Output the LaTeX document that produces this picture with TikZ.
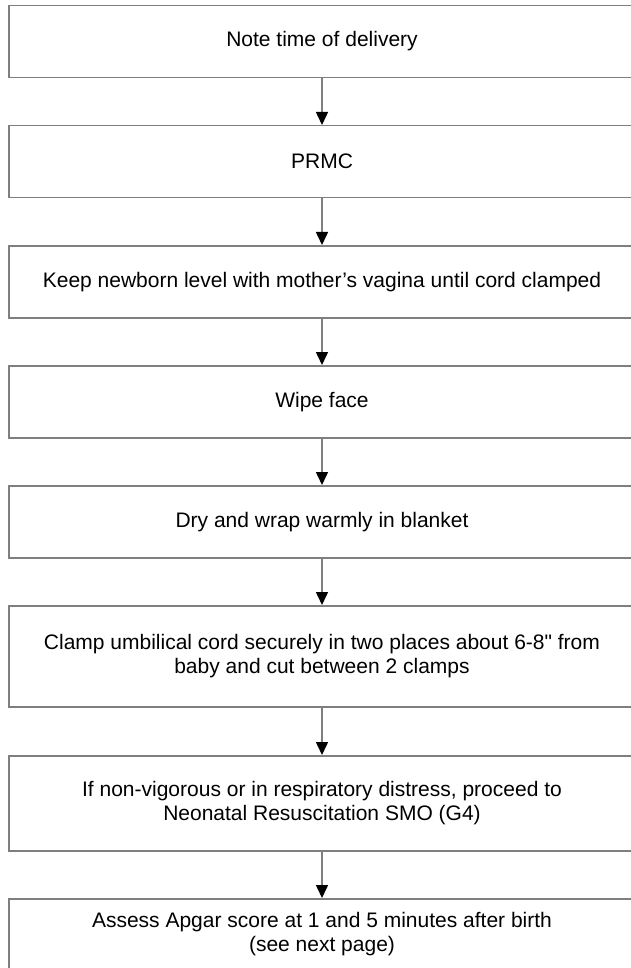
\documentclass[tikz,border=0pt]{standalone}
\usepackage{fontspec}
\setmainfont{Liberation Sans}[Ligatures=TeXOff]
\usetikzlibrary{arrows.meta}
\definecolor{linegray}{HTML}{7F7F7F}
\tikzset{
  stepbox/.style={draw=linegray, line width=1.5pt, fill=white, minimum width=626pt,
    inner sep=0pt, anchor=north, align=center,
    font=\fontsize{21}{24}\selectfont},
  flow/.style={draw=linegray, line width=1.5pt,
    -{Triangle[width=12pt,length=13pt,color=black,fill=black]}}
}
\begin{document}
\begin{tikzpicture}[x=1pt,y=1pt]
\useasboundingbox (0,0) rectangle (630,-968);
\node[stepbox, minimum height=72pt] (b1) at (322,-4.7) {Note time of delivery};
\node[stepbox, minimum height=72pt] (b2) at (322,-125) {PRMC};
\node[stepbox, minimum height=72pt] (b3) at (322,-245) {Keep newborn level with mother’s vagina until cord clamped};
\node[stepbox, minimum height=72pt] (b4) at (322,-365) {Wipe face};
\node[stepbox, minimum height=72pt] (b5) at (322,-485) {Dry and wrap warmly in blanket};
\node[stepbox, minimum height=101pt] (b6) at (322,-605) {Clamp umbilical cord securely in two places about 6-8" from\\baby and cut between 2 clamps};
\node[stepbox, minimum height=95pt] (b7) at (322,-755) {If non-vigorous or in respiratory distress, proceed to\\Neonatal Resuscitation SMO (G4)};
\node[stepbox, minimum height=71pt] (b8) at (322,-898) {Assess Apgar score at 1 and 5 minutes after birth\\(see next page)};
\draw[flow] (b1.south) -- (b2.north);
\draw[flow] (b2.south) -- (b3.north);
\draw[flow] (b3.south) -- (b4.north);
\draw[flow] (b4.south) -- (b5.north);
\draw[flow] (b5.south) -- (b6.north);
\draw[flow] (b6.south) -- (b7.north);
\draw[flow] (b7.south) -- (b8.north);
\end{tikzpicture}
\end{document}
